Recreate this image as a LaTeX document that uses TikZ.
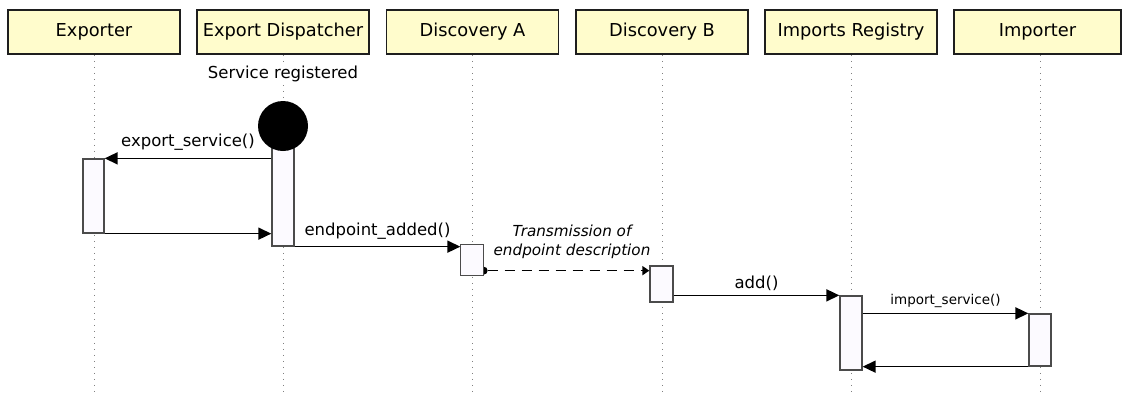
\documentclass[tikz,border=0pt]{standalone}
\usepackage{fontspec}
\setmainfont{DejaVu Sans}
\usetikzlibrary{arrows.meta}
\definecolor{hdrfill}{RGB}{255,252,204}
\definecolor{actfill}{RGB}{252,250,255}
\definecolor{edge}{RGB}{30,30,30}
\begin{document}
\begin{tikzpicture}[x=1pt,y=-1pt,
  header/.style={draw=edge,line width=1.5pt,fill=hdrfill,minimum width=172pt,minimum height=44pt,inner sep=0pt,font=\fontsize{17.8}{20}\selectfont},
  life/.style={draw=gray,line width=0.9pt,dash pattern=on 1pt off 5pt},
  actbox/.style={draw=edge!80,line width=1.3pt,fill=actfill,inner sep=0pt},
  msg/.style={line width=1.6pt,-{Triangle[length=13pt,width=12pt]}},
  lbl/.style={font=\fontsize{16.5}{19}\selectfont,inner sep=1pt}]
\useasboundingbox (0,0) rectangle (1122,394);
% headers
\node[header] (h1) at (94,32) {Exporter};
\node[header] (h2) at (283,32) {Export Dispatcher};
\node[header] (h3) at (472.5,32) {Discovery A};
\node[header] (h4) at (662,32) {Discovery B};
\node[header] (h5) at (851,32) {Imports Registry};
\node[header,minimum width=167pt] (h6) at (1037.5,32) {Importer};
% lifeline ends
\coordinate (e1) at (94,394);
\coordinate (e2) at (283,394);
\coordinate (e3) at (472.5,394);
\coordinate (e4) at (662,394);
\coordinate (e5) at (851,394);
\coordinate (e6) at (1040,394);
\draw[life] (h1.south) -- (e1);
\draw[life] (h2.south) -- (e2);
\draw[life] (h3.south) -- (e3);
\draw[life] (h4.south) -- (e4);
\draw[life] (h5.south) -- (e5);
\draw[life] (h6.south -| e6) -- (e6);
% event
\node[lbl,fill=white,inner sep=3pt] (ev) at (283,74) {Service registered};
% activations
\node[actbox,minimum width=21pt,minimum height=74pt] (a1) at (93.5,196) {};
\node[actbox,minimum width=22pt,minimum height=120pt] (a2) at (283,186) {};
\node[circle,fill=black,minimum size=50pt,inner sep=0pt] (st) at (283,126) {};
% messages
\draw[msg] (a2.west |- a1.north) -- node[lbl,above=6pt] {export\_service()} (a1.north east);
\draw[msg] (a1.south east) -- (a2.west |- a1.south);
\node[actbox,minimum width=22pt,minimum height=30pt] (a3) at (472,260) {};
\draw[msg] (a2.south east) -- node[lbl,above=5pt] {endpoint\_added()} (a3.west |- a2.south);
\node[actbox,minimum width=23pt,minimum height=36pt] (a4) at (661.5,284) {};
\coordinate (ds) at ([yshift=5pt]a3.south east);
\coordinate (de) at (ds -| a4.west);
\fill (ds) circle (4pt);
\draw[actbox] (a3.north west) rectangle (a3.south east);
\draw[line width=1.6pt,dash pattern=on 10pt off 7pt,-{Triangle[length=7pt,width=9pt]}] ([xshift=4pt]ds) -- (de);
\node[lbl,font=\fontsize{15.2}{19}\selectfont\itshape,align=center] (tx) at (572,242) {Transmission of\\endpoint description};
\node[actbox,minimum width=22pt,minimum height=74pt] (a5) at (851,333) {};
\draw[msg] (a4.east |- a5.north) -- node[lbl,above=3pt] {add()} (a5.north west);
\node[actbox,minimum width=22pt,minimum height=52pt] (a6) at (1040,340) {};
\draw[msg] (a5.east |- a6.north) -- node[lbl,font=\fontsize{13.5}{16}\selectfont,above=4pt] {import\_service()} (a6.north west);
\draw[msg] (a6.south west) -- (a5.east |- a6.south);
\end{tikzpicture}
\end{document}
